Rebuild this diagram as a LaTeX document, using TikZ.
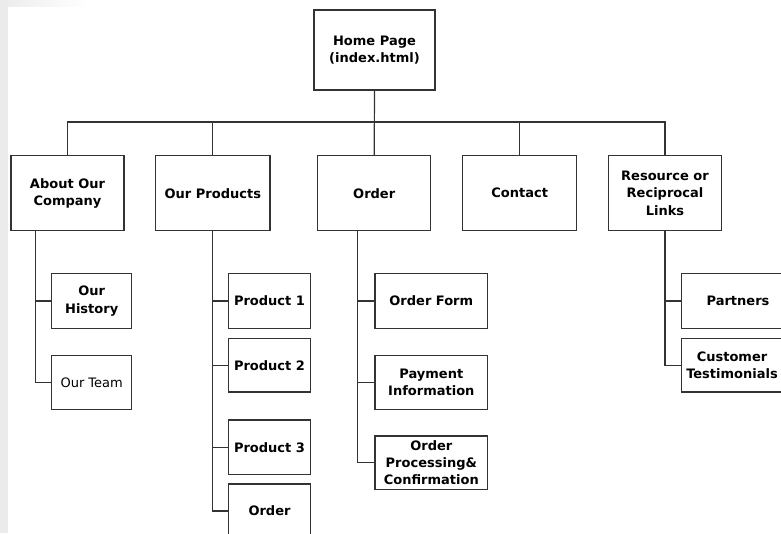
\documentclass[tikz,border=0pt]{standalone}
\usepackage{fontspec}
\setmainfont{DejaVu Sans}
\begin{document}
\begin{tikzpicture}[x=1pt,y=-1pt,
  lbl/.style={inner sep=0pt, align=center, font=\fontsize{13}{17.2}\selectfont\bfseries},
  box/.style={lbl, draw=black!80, line width=1.2pt, fill=white, rectangle},
  conn/.style={draw=black!80, line width=1.2pt}]
\useasboundingbox (0,0) rectangle (781,533);
\clip (0,0) rectangle (781,533);
\fill[white] (0,0) rectangle (781,533);
\fill[black!8] (0,0) rectangle (8,533);
\shade[left color=black!7, right color=white] (8,0) rectangle (88,6);

% level 0
\node[box, minimum width=121, minimum height=80] (home) at (374.5,50) {Home Page\\(index.html)};
% level 1
\node[box, minimum width=113, minimum height=75] (about) at (67.5,193.2) {About Our\\Company};
\node[box, minimum width=114.3, minimum height=75] (prod) at (212.85,193.2) {Our Products};
\node[box, minimum width=113, minimum height=75] (order) at (374.2,193.2) {Order};
\node[box, minimum width=114, minimum height=75] (contact) at (519.7,193.2) {Contact};
\node[box, minimum width=112.6, minimum height=75] (res) at (665,193.2) {Resource or\\Reciprocal\\Links};
% level 2
\node[box, minimum width=80, minimum height=54.6] (hist) at (91.7,301) {Our\\History};
\node[box, minimum width=80, minimum height=54, font=\fontsize{13}{17.2}\selectfont] (team) at (91.7,382.3) {Our Team};
\node[box, minimum width=81.6, minimum height=54.6] (p1) at (269.5,301) {Product 1};
\node[box, minimum width=81.6, minimum height=53.3] (p2) at (269.5,365.3) {Product 2};
\node[box, minimum width=81.6, minimum height=54.3] (p3) at (269.5,447.2) {Product 3};
\node[box, minimum width=81.6, minimum height=54] (ord2) at (269.5,511) {Order};
\node[box, minimum width=112.7, minimum height=54.6] (oform) at (431.3,301) {Order Form};
\node[box, minimum width=112.7, minimum height=54] (pay) at (431.3,382.3) {Payment\\Information};
\node[box, minimum width=112.7, minimum height=53.3] (proc) at (431.3,462.7) {Order\\Processing\&\\Confirmation};
\node[box, minimum width=112.7, minimum height=54.6] (partners) at (738,301) {Partners};
\node[box, minimum width=112.7, minimum height=53.3] (cust) at (738,365.3) {};
\node[lbl] (custtext) at (732,365.3) {Customer\\Testimonials};

% connectors level 0 -> 1
\coordinate (bus) at (374,122);
\draw[conn] (home.south) -- (order.north);
\draw[conn] (about.north) -- (about.north |- bus) -- (res.north |- bus) -- (res.north);
\draw[conn] (prod.north) -- (prod.north |- bus);
\draw[conn] (contact.north) -- (contact.north |- bus);

% about
\coordinate (astem) at (35.7,230.7);
\draw[conn] (astem) |- (team.west);
\draw[conn] (astem |- hist.west) -- (hist.west);
% products
\draw[conn] (prod.south) |- (ord2.west);
\draw[conn] (prod.south |- p1.west) -- (p1.west);
\draw[conn] (prod.south |- p2.west) -- (p2.west);
\draw[conn] (prod.south |- p3.west) -- (p3.west);
% order
\coordinate (ostem) at (357.7,230.7);
\draw[conn] (ostem) |- (proc.west);
\draw[conn] (ostem |- oform.west) -- (oform.west);
\draw[conn] (ostem |- pay.west) -- (pay.west);
% resources
\draw[conn] (res.south) |- (cust.west);
\draw[conn] (res.south |- partners.west) -- (partners.west);
\end{tikzpicture}
\end{document}
